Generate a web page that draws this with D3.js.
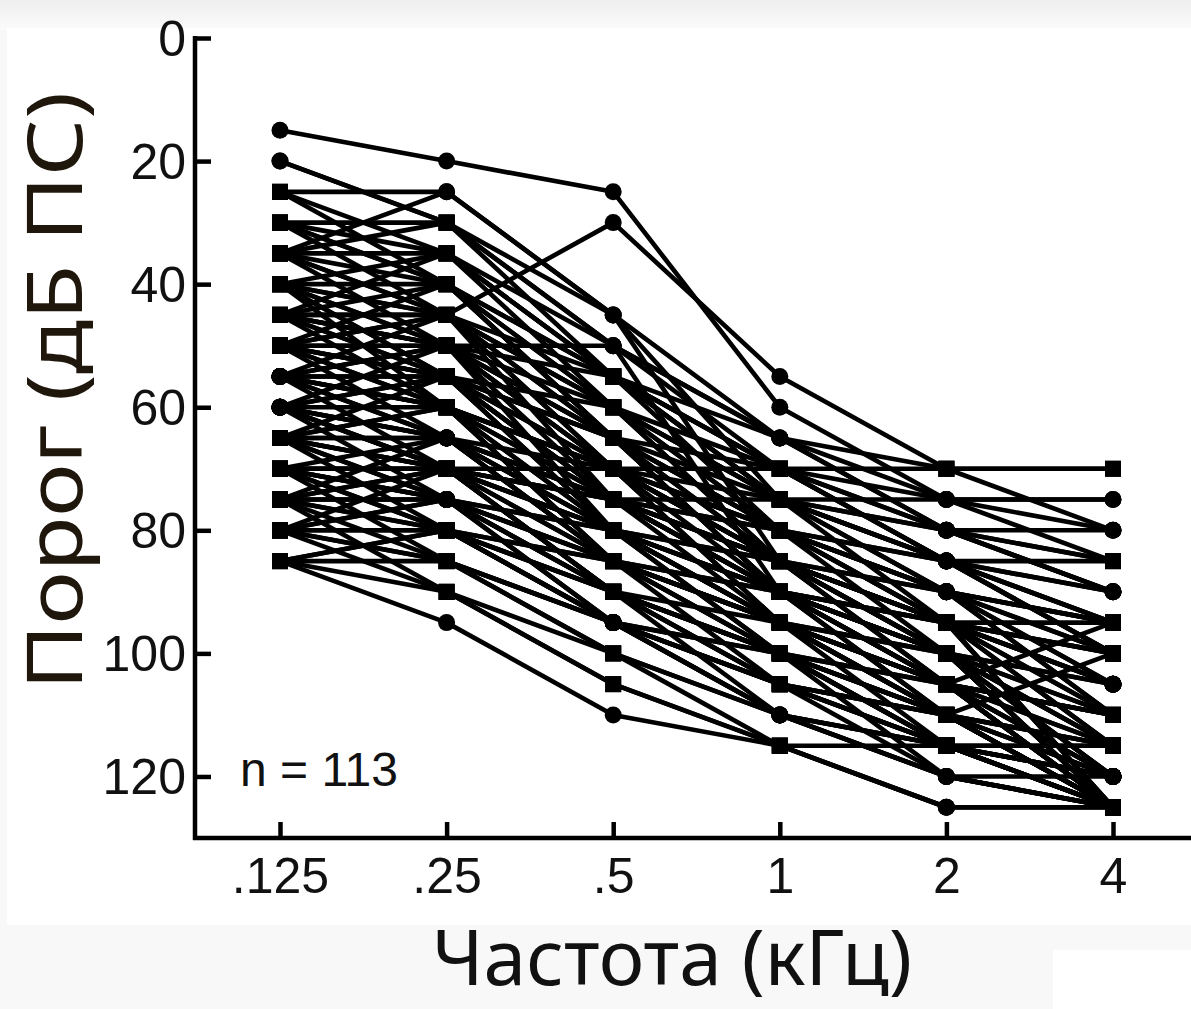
<!DOCTYPE html>
<html><head><meta charset="utf-8">
<script src="https://cdn.jsdelivr.net/npm/d3@7"></script>
<style>
html,body{margin:0;padding:0;background:#f6f6f6;}
svg{display:block;}
</style></head>
<body>
<svg id="chart" width="1191" height="1009"></svg>
<script>
// Frequencies (kHz) – category labels of the x axis
const frequencies = [".125", ".25", ".5", "1", "2", "4"];
// Y tick values (dB)
const yTicks = [0, 20, 40, 60, 80, 100, 120];
// Threshold curves, one per listener, values at each frequency (dB)
const subjects = [
  [15,20,25,60,75,75],
  [20,30,55,75,80,80],
  [25,35,55,70,85,90],
  [30,40,60,80,90,95],
  [30,35,55,75,85,100],
  [35,25,45,85,95,105],
  [45,45,30,55,70,70],
  [35,30,50,70,80,90],
  [40,35,60,85,95,110],
  [40,50,65,90,100,115],
  [45,40,65,80,95,125],
  [50,50,50,90,100,120],
  [45,55,70,95,110,125],
  [50,45,60,75,90,110],
  [55,60,75,95,105,125],
  [60,50,80,100,110,120],
  [55,65,85,100,115,125],
  [60,70,85,105,115,120],
  [65,60,70,85,100,110],
  [70,70,70,70,70,70],
  [75,65,80,90,105,115],
  [80,75,90,100,110,125],
  [85,95,110,115,115,125],
  [85,90,105,115,125,125],
  [80,90,100,110,120,120],
  [75,85,95,105,115,115],
  [65,75,90,100,110,125],
  [70,80,85,95,105,110],
  [55,55,75,85,95,105],
  [50,60,80,90,110,115],
  [45,50,55,80,85,100],
  [40,40,65,90,105,125],
  [35,45,70,85,100,120],
  [30,45,75,90,100,105],
  [25,40,60,70,75,85],
  [60,65,75,90,95,100],
  [65,55,80,95,105,110],
  [75,80,95,110,120,125],
  [80,85,100,115,125,125],
  [85,80,95,105,115,120],
  [70,75,85,100,110,125],
  [55,50,65,85,90,95],
  [50,55,70,80,95,115],
  [45,60,85,95,110,125],
  [40,55,75,90,100,110],
  [35,50,70,80,90,95],
  [60,55,65,75,85,90],
  [65,70,90,105,110,115],
  [75,70,80,95,110,120],
  [80,70,75,85,95,100],
  [55,45,55,65,75,80],
  [50,40,55,70,80,85],
  [45,35,50,65,80,90],
  [60,60,70,85,90,105],
  [65,65,85,95,100,125],
  [70,65,75,90,105,125],
  [75,75,85,95,100,105],
  [80,80,90,100,105,110],
  [85,85,95,110,120,125],
  [40,45,60,75,85,95],
  [50,65,80,95,105,120],
  [55,70,90,105,115,125],
  [60,75,95,110,115,120],
  [65,80,90,100,115,125],
  [70,85,100,110,115,125],
  [75,90,105,115,125,125],
  [45,50,75,90,100,115],
  [35,40,55,75,90,105],
  [40,60,70,80,90,100],
  [50,45,65,80,85,85],
  [55,60,70,75,80,90],
  [60,65,80,85,95,95],
  [65,70,75,80,90,100],
  [70,70,80,90,95,105],
  [75,80,85,90,100,115],
  [80,75,85,95,105,125],
  [45,55,60,75,95,110],
  [50,50,60,85,100,125],
  [55,65,70,90,110,120],
  [60,55,75,80,100,125],
  [40,50,70,95,105,110],
  [65,60,85,100,120,125],
  [70,75,90,95,110,115],
  [75,70,90,105,120,125],
  [80,85,95,100,110,125],
  [85,80,90,100,115,120],
  [45,45,65,70,85,95],
  [50,55,65,90,95,100],
  [55,50,70,85,105,125],
  [60,70,80,95,115,125],
  [65,65,75,85,100,120],
  [70,80,95,105,110,125],
  [30,30,50,65,70,80],
  [35,35,55,70,85,100],
  [25,25,45,65,80,85],
  [20,30,45,75,85,95],
  [70,70,75,75,75,75],
  [60,70,90,110,115,115],
  [80,80,95,105,110,100],
  [65,75,80,90,105,95],
  [40,45,70,85,95,125],
  [50,60,75,90,100,125],
  [55,55,80,95,110,125],
  [45,50,65,85,105,120],
  [60,65,85,90,100,125],
  [70,75,80,85,95,125],
  [35,45,60,80,90,110],
  [75,75,95,100,105,125],
  [50,55,75,85,95,105],
  [65,70,85,95,105,115],
  [40,55,65,80,95,115],
  [55,60,80,100,115,125],
  [30,40,65,90,105,120]
];
// Levels at which the plotted marker is a filled circle (others are squares)
const circleLevels = {
  ".125": [15,20,55,60],
  ".25": [20,25,65,75,95],
  ".5": [25,30,45,50,95,110],
  "1": [55,60,65,110],
  "2": [75,80,85,90,120,125],
  "4": [75,80,90,105,120]
};
const nLabel = "n = 113";
const xTitle = "Частота (кГц)";
const yTitle = "Порог (дБ ПС)";

const svg = d3.select("#chart");
const W = 1191, H = 1009;
const axisX = 195, axisY = 838, topY = 38;

// background panels
const defs = svg.append("defs");
const grad = defs.append("linearGradient").attr("id","topband").attr("x1",0).attr("y1",0).attr("x2",0).attr("y2",1);
grad.append("stop").attr("offset","0%").attr("stop-color","#eeeeee");
grad.append("stop").attr("offset","100%").attr("stop-color","#fbfbfb");
svg.append("rect").attr("x",0).attr("y",0).attr("width",W).attr("height",H).attr("fill","#f8f8f8");
svg.append("rect").attr("x",0).attr("y",0).attr("width",W).attr("height",30).attr("fill","url(#topband)");
svg.append("rect").attr("x",7).attr("y",28).attr("width",W-7).attr("height",897).attr("fill","#ffffff");
svg.append("rect").attr("x",1053).attr("y",950).attr("width",W-1053).attr("height",H-950).attr("fill","#ffffff");

const x = d3.scalePoint().domain(frequencies).range([280, 1113]);
const y = d3.scaleLinear().domain([0, 130]).range([topY, axisY]);

const line = d3.line().x((d,i)=>x(frequencies[i])).y(d=>y(d));

const g = svg.append("g");
g.selectAll("path.subj").data(subjects).enter().append("path")
  .attr("class","subj")
  .attr("d", d=>line(d))
  .attr("fill","none").attr("stroke","#000").attr("stroke-width",4.6)
  .attr("stroke-linejoin","round");

const pts = [];
subjects.forEach(s=>s.forEach((v,i)=>pts.push({f:frequencies[i], v})));
const isCircle = p => circleLevels[p.f].includes(p.v);
g.selectAll("rect.sq").data(pts.filter(p=>!isCircle(p))).enter().append("rect")
  .attr("class","sq")
  .attr("x",p=>x(p.f)-8).attr("y",p=>y(p.v)-8)
  .attr("width",16).attr("height",16).attr("fill","#000");
g.selectAll("circle.ci").data(pts.filter(isCircle)).enter().append("circle")
  .attr("class","ci")
  .attr("cx",p=>x(p.f)).attr("cy",p=>y(p.v)).attr("r",8.5).attr("fill","#000");

// Y axis
const yAxis = d3.axisLeft(y).tickValues(yTicks).tickSizeInner(-16).tickSizeOuter(0).tickPadding(9);
const ya = svg.append("g").attr("transform",`translate(${axisX},0)`).call(yAxis);
ya.select(".domain").remove();
ya.selectAll(".tick line").attr("stroke","#000").attr("stroke-width",4.5);
ya.selectAll(".tick text").attr("font-family","'Liberation Sans', Arial, sans-serif")
  .attr("font-size",50).attr("fill","#111").attr("dy","0.34em");
svg.append("line").attr("x1",axisX).attr("x2",axisX).attr("y1",topY-2).attr("y2",axisY+2)
  .attr("stroke","#000").attr("stroke-width",4.5);

// X axis
const xAxis = d3.axisBottom(x).tickSizeInner(-16).tickSizeOuter(0).tickPadding(19);
const xa = svg.append("g").attr("transform",`translate(0,${axisY})`).call(xAxis);
xa.select(".domain").remove();
xa.selectAll(".tick line").attr("stroke","#000").attr("stroke-width",4.5);
xa.selectAll(".tick text").attr("font-family","'Liberation Sans', Arial, sans-serif")
  .attr("font-size",50).attr("fill","#111");
svg.append("line").attr("x1",axisX-2).attr("x2",W).attr("y1",axisY).attr("y2",axisY)
  .attr("stroke","#000").attr("stroke-width",4.5);

// n label
svg.append("text").attr("x",240).attr("y",786).text(nLabel)
  .attr("font-family","'Liberation Sans', Arial, sans-serif").attr("font-size",48).attr("fill","#111");

// titles
svg.append("text").attr("x",672).attr("y",985).attr("text-anchor","middle")
  .attr("font-family","'Noto Sans', 'Open Sans', sans-serif").attr("font-size",76)
  .attr("textLength",480).attr("lengthAdjust","spacingAndGlyphs")
  .attr("fill","#111").text(xTitle);
svg.append("text").attr("transform","translate(82,391) rotate(-90)").attr("text-anchor","middle")
  .attr("font-family","'Noto Sans', 'Open Sans', sans-serif").attr("font-size",76)
  .attr("textLength",598).attr("lengthAdjust","spacingAndGlyphs")
  .attr("fill","#20170c").text(yTitle);
</script>
</body></html>
